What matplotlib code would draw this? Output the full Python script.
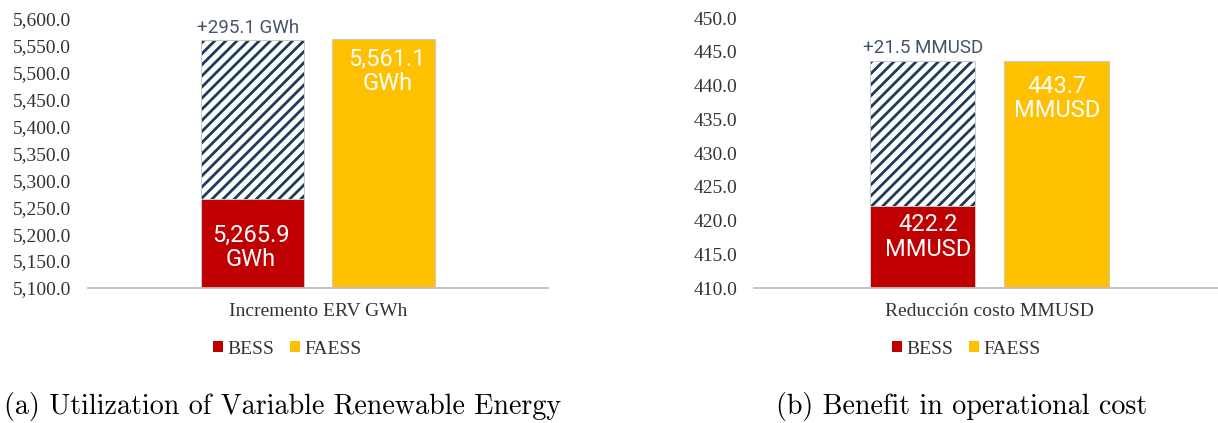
import matplotlib
matplotlib.use("Agg")
import matplotlib.pyplot as plt
from matplotlib.patches import Patch
from matplotlib.ticker import FuncFormatter, MultipleLocator

# ---- data ---------------------------------------------------------------
series = ["BESS", "FAESS"]
captions = ["(a) Utilization of Variable Renewable Energy",
            "(b) Benefit in operational cost"]

erv_category = "Incremento ERV GWh"
erv_unit = "GWh"
erv_bess = 5265.9
erv_gain = 295.1
erv_faess = 5561.1

cost_category = "Reducción costo MMUSD"
cost_unit = "MMUSD"
cost_bess = 422.2
cost_gain = 21.5
cost_faess = 443.7

# ---- style --------------------------------------------------------------
W, H, DPI = 1218, 423, 100
RED = "#C00000"
YELLOW = "#FFC000"
NAVY = "#1F3B5C"
SLATE = "#44546A"
EDGE_GREY = "#C8C8C8"
GRID_GREY = "#BFBFBF"
TEXT_GREY = "#333333"

plt.rcParams["font.family"] = ["Liberation Serif", "DejaVu Serif"]
plt.rcParams["hatch.linewidth"] = 2.0

PX = 72.0 / DPI  # pixels -> points


def draw_panel(ax, category, unit, bess, gain, faess, ylim, step,
               bess_dy, faess_dy, gain_dy, bess_dx, faess_dx, gain_dx):
    offset, width = 0.142, 0.224
    x_b, x_f = -offset, offset

    ax.bar(x_b, bess - ylim[0], bottom=ylim[0], width=width, color=RED,
           edgecolor=EDGE_GREY, linewidth=0.7, zorder=2)
    ax.bar(x_b, gain, bottom=bess, width=width, color="white",
           edgecolor=NAVY, hatch="///", linewidth=0, zorder=2)
    ax.bar(x_b, gain, bottom=bess, width=width, fill=False,
           edgecolor=EDGE_GREY, linewidth=0.7, zorder=3)
    ax.bar(x_f, faess - ylim[0], bottom=ylim[0], width=width, color=YELLOW,
           edgecolor=EDGE_GREY, linewidth=0.7, zorder=2)

    label_kw = dict(textcoords="offset points", ha="center", va="center",
                    family=["Roboto", "DejaVu Sans"], linespacing=1.1)
    ax.annotate(f"{bess:,.1f}\n{unit}", (x_b, bess),
                xytext=(bess_dx * PX, -bess_dy * PX), color="white",
                fontsize=17, **label_kw)
    ax.annotate(f"{faess:,.1f}\n{unit}", (x_f, faess),
                xytext=(faess_dx * PX, -faess_dy * PX), color="white",
                fontsize=17, **label_kw)
    ax.annotate(f"+{gain:,.1f} {unit}", (x_b, bess + gain),
                xytext=(gain_dx * PX, gain_dy * PX), color=SLATE,
                fontsize=13.5, **label_kw)

    ax.set_xlim(-0.5, 0.5)
    ax.set_ylim(*ylim)
    ax.yaxis.set_major_locator(MultipleLocator(step))
    ax.yaxis.set_major_formatter(FuncFormatter(lambda v, _: f"{v:,.1f}"))
    ax.set_xticks([0], [category])

    for side in ("top", "right", "left"):
        ax.spines[side].set_visible(False)
    ax.spines["bottom"].set_color(GRID_GREY)
    ax.spines["bottom"].set_linewidth(1.3)
    ax.spines["bottom"].set_zorder(4)
    ax.tick_params(axis="y", length=0, pad=12, labelsize=14,
                   labelcolor=TEXT_GREY)
    ax.tick_params(axis="x", length=0, pad=11, labelsize=14,
                   labelcolor=TEXT_GREY)


fig = plt.figure(figsize=(W / DPI, H / DPI), dpi=DPI)

ax_a = fig.add_axes([88 / W, 1 - 288 / H, 460 / W, (288 - 18.5) / H])
ax_b = fig.add_axes([754 / W, 1 - 288 / H, 471 / W, (288 - 18) / H])

draw_panel(ax_a, erv_category, erv_unit, erv_bess, erv_gain, erv_faess,
           (5100, 5600), 50,
           bess_dy=49, faess_dy=32, gain_dy=11.5,
           bess_dx=-1.5, faess_dx=4, gain_dx=-5)
draw_panel(ax_b, cost_category, cost_unit, cost_bess, cost_gain, cost_faess,
           (410, 450), 5,
           bess_dy=31, faess_dy=38, gain_dy=12.5,
           bess_dx=6, faess_dx=1, gain_dx=1)

handles = [Patch(facecolor=RED, edgecolor="none"),
           Patch(facecolor=YELLOW, edgecolor="none")]
for cx in (287, 966):
    fig.legend(handles, series, loc="center",
               bbox_to_anchor=(cx / W, 1 - 349 / H), ncol=2, frameon=False,
               fontsize=14, handlelength=0.55, handleheight=0.55,
               handletextpad=0.2, columnspacing=0.8, labelcolor=TEXT_GREY)

for cx, text in zip((283, 962), captions):
    fig.text(cx / W, 1 - 406 / H, text, ha="center", va="center",
             family=["cmr10", "DejaVu Serif"], fontsize=20.2, color="black")

fig.savefig("out.png", dpi=DPI)
